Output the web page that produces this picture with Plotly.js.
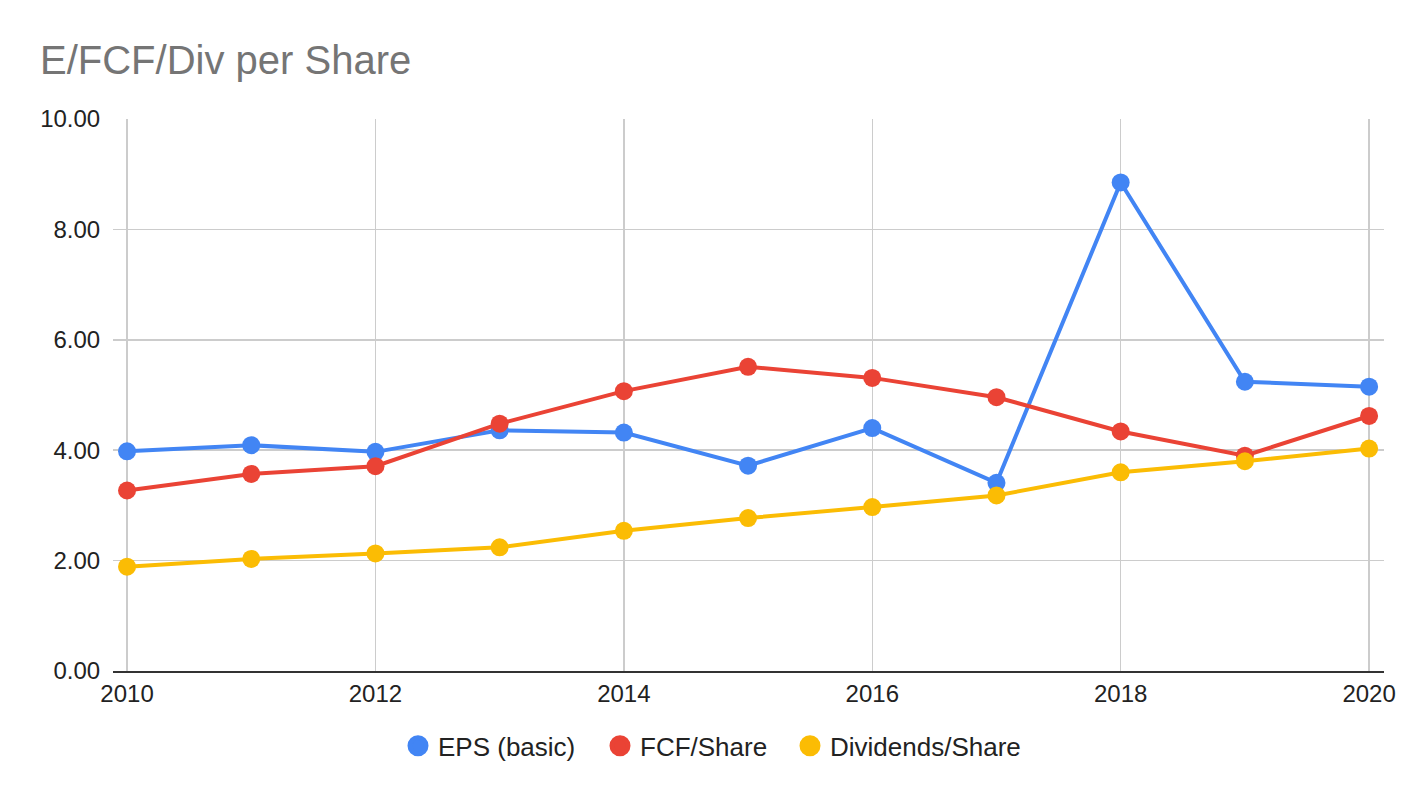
<!DOCTYPE html>
<html>
<head>
<meta charset="utf-8">
<script src="https://cdn.plot.ly/plotly-3.0.1.min.js"></script>
<style>html,body{margin:0;padding:0;background:#fff;}#chart{width:1424px;height:798px;}</style>
</head>
<body>
<div id="chart"></div>
<script>
const years = [2010, 2011, 2012, 2013, 2014, 2015, 2016, 2017, 2018, 2019, 2020];
const epsBasic = [3.98, 4.09, 3.97, 4.36, 4.32, 3.72, 4.40, 3.41, 8.85, 5.24, 5.15];
const fcfShare = [3.27, 3.57, 3.71, 4.48, 5.07, 5.51, 5.31, 4.96, 4.34, 3.90, 4.62];
const divShare = [1.89, 2.03, 2.13, 2.24, 2.54, 2.77, 2.97, 3.18, 3.60, 3.80, 4.03];
const seriesNames = ['EPS (basic)', 'FCF/Share', 'Dividends/Share'];
const seriesColors = ['#4285F4', '#EA4335', '#FBBC04'];
const seriesValues = [epsBasic, fcfShare, divShare];

const legendIds = ['legend', 'legend2', 'legend3'];
const legendLeftPx = [398, 600, 790];

const traces = [];
seriesValues.forEach((vals, i) => {
  traces.push({
    x: years, y: vals, type: 'scatter', mode: 'lines+markers',
    name: seriesNames[i], showlegend: false,
    line: {color: seriesColors[i], width: 4},
    marker: {color: seriesColors[i], size: 18},
    hoverinfo: 'x+y'
  });
});
seriesValues.forEach((vals, i) => {
  traces.push({
    x: [null], y: [null], type: 'scatter', mode: 'markers',
    name: seriesNames[i], showlegend: true, legend: legendIds[i],
    marker: {color: seriesColors[i], size: 20, line: {color: seriesColors[i], width: 5}}
  });
});

const layout = {
  width: 1424, height: 798,
  paper_bgcolor: '#fff', plot_bgcolor: '#fff',
  font: {family: 'Arial, "Liberation Sans", sans-serif', size: 24, color: '#222'},
  margin: {l: 113, r: 40, t: 119, b: 127},
  title: {text: 'E/FCF/Div per Share', x: 40 / 1424, xanchor: 'left', xref: 'container',
          y: 1 - 60 / 798, yanchor: 'middle', yref: 'container',
          font: {family: 'Arial, "Liberation Sans", sans-serif', size: 40, color: '#757575'}},
  xaxis: {
    range: [2009.887, 2020.12], tick0: 2010, dtick: 2, tickmode: 'linear',
    showgrid: true, gridcolor: '#cccccc', gridwidth: 1.5,
    zeroline: false, showline: true, linecolor: '#333333', linewidth: 2,
    ticks: '', tickfont: {size: 24, color: '#222'}, fixedrange: true
  },
  yaxis: {
    range: [0, 10], dtick: 2, tickmode: 'linear', tickformat: '.2f',
    showgrid: true, gridcolor: '#cccccc', gridwidth: 1.5,
    zeroline: false, showline: false,
    ticks: 'outside', ticklen: 7, tickcolor: 'rgba(0,0,0,0)',
    tickfont: {size: 24, color: '#222'}, fixedrange: true
  },
  showlegend: true
};
legendIds.forEach((id, i) => {
  layout[id] = {
    orientation: 'h', x: (legendLeftPx[i] - 113) / 1271, xanchor: 'left', y: -0.093, yanchor: 'top',
    font: {size: 26, color: '#222'}, itemsizing: 'trace', bgcolor: 'rgba(0,0,0,0)', borderwidth: 0
  };
});

Plotly.newPlot('chart', traces, layout, {displayModeBar: false, staticPlot: true});
</script>
</body>
</html>
